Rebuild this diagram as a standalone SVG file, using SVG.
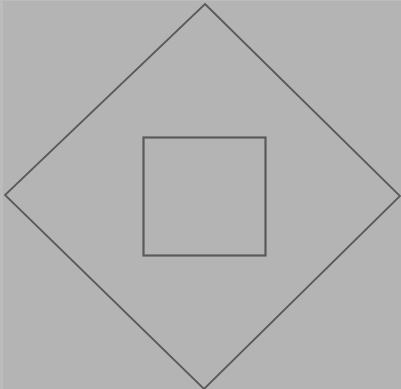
<svg xmlns="http://www.w3.org/2000/svg" width="401" height="389" viewBox="0 0 401 389">
<style>
.shape{fill:none;stroke:#5a5a5a;}
</style>
<rect x="0" y="0" width="401" height="389" fill="#bcbcbc"/>
<rect x="3" y="1" width="398" height="388" fill="#b4b4b4"/>
<g id="diamond"><polygon class="shape" stroke-width="1.8" points="205,4 400,196 204,389 5,195"/></g>
<g id="square"><rect class="shape" stroke="#666" stroke-width="2.2" x="143.5" y="137.5" width="122" height="118"/></g>
<g id="connectors"></g>
</svg>
